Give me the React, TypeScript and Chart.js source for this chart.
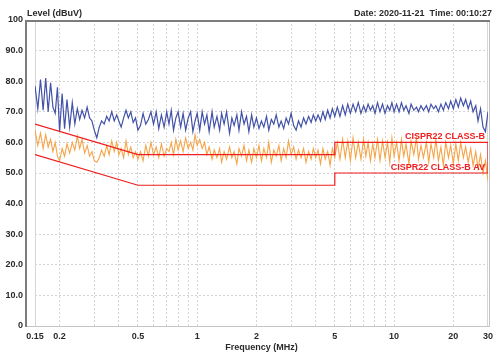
import React, { useEffect, useRef } from "react";
import { Chart, registerables } from "chart.js";

Chart.register(...registerables);

// Sweep frequencies (MHz)
const FREQ_MHZ = [
  0.150, 0.155, 0.160, 0.165, 0.170, 0.175, 0.180, 0.185, 0.190, 0.195, 0.200,
  0.206, 0.212, 0.218, 0.225, 0.232, 0.239, 0.246, 0.253, 0.260, 0.268, 0.276, 0.284, 0.292, 0.300,
  0.309, 0.318, 0.327, 0.337, 0.347, 0.357, 0.368, 0.379, 0.390, 0.400,
  0.411, 0.423, 0.435, 0.447, 0.460, 0.473, 0.486, 0.500,
  0.515, 0.531, 0.548, 0.565, 0.582, 0.600,
  0.619, 0.638, 0.658, 0.679, 0.700,
  0.719, 0.738, 0.758, 0.779, 0.800,
  0.824, 0.848, 0.874, 0.900,
  0.926, 0.951, 0.975, 1.00,
  1.03, 1.06, 1.09, 1.12, 1.15, 1.19, 1.22, 1.26, 1.30, 1.33, 1.37, 1.41, 1.46, 1.50, 1.54, 1.59, 1.63, 1.68, 1.73, 1.78, 1.83, 1.89, 1.94, 2.00,
  2.06, 2.12, 2.18, 2.25, 2.31, 2.38, 2.45, 2.52, 2.60, 2.67, 2.75, 2.83, 2.91, 3.00,
  3.09, 3.18, 3.27, 3.37, 3.47, 3.57, 3.68, 3.79, 3.89, 4.00,
  4.11, 4.23, 4.35, 4.47, 4.60, 4.73, 4.86, 5.00,
  5.15, 5.31, 5.48, 5.65, 5.82, 6.00,
  6.19, 6.38, 6.58, 6.79, 7.00,
  7.19, 7.38, 7.58, 7.79, 8.00,
  8.24, 8.48, 8.74, 9.00,
  9.26, 9.51, 9.75, 10.0,
  10.3, 10.6, 10.9, 11.2, 11.5, 11.9, 12.2, 12.6, 13.0, 13.3, 13.7, 14.1, 14.6, 15.0, 15.4, 15.9, 16.3, 16.8, 17.3, 17.8, 18.3, 18.9, 19.4, 20.0,
  20.6, 21.2, 21.8, 22.5, 23.1, 23.8, 24.5, 25.2, 26.0, 26.7, 27.5, 28.3, 29.1, 30.0,
];

// Peak trace (blue), dBuV
const PEAK_DBUV = [
  78.5, 71, 80.5, 70.5, 81, 70, 79.5, 71.5, 69.5, 78, 63.5,
  76, 64.5, 74, 65, 73, 66, 71, 67.5, 70.5, 68, 71.5, 68, 67, 64,
  61.5, 65, 67, 66, 68.5, 67, 70, 67, 69, 67,
  65, 68, 70.5, 68, 70, 66.5, 68, 64,
  65.5, 69.5, 66, 67.5, 70, 66,
  70, 64.5, 69, 65, 70,
  66, 70.5, 64, 68, 70,
  65, 69.5, 64, 68,
  70, 63.5, 67, 69.5,
  64, 70, 66, 69, 63.5, 70, 65, 68.5, 64, 69.5, 66, 70, 63, 68, 65.5, 69, 64, 70, 66, 68.5, 63.5, 69, 65, 68,
  64.5, 67, 65, 68.5, 64, 67.5, 66, 69, 65, 67, 64.5, 68, 66, 69.5,
  65.5, 64, 67, 65, 68, 66, 68.5, 66.5, 69, 67,
  69, 67, 70, 67.5, 70.5, 68, 71, 68.5,
  71.5, 68.5, 72, 69, 72.5, 69.5,
  72.5, 70, 73, 69.5, 72,
  70, 72.5, 70.5, 72, 69.5,
  73, 70, 72.5, 69.5,
  72, 70.5, 73, 70,
  72.5, 70, 73, 70.5, 72, 69.5, 72.5, 70.5, 71.5, 70, 72, 70.5, 72, 70, 72.5, 71, 72, 70, 72.5, 70.5, 73, 71, 73.5, 71,
  74, 71.5, 74.5, 72, 74, 71, 73.5, 70, 72, 67, 71, 65, 63.5, 70,
];

// Average trace (orange), dBuV
const AVG_DBUV = [
  64, 59, 63, 58, 62.5, 58.5, 61, 57, 60, 55.5, 54,
  58, 55.5, 59.5, 56.5, 60, 57.5, 62, 58, 61, 56.5, 59, 55.5, 57, 54,
  53.5, 55, 57.5, 55.5, 59, 56, 60.5, 57, 60, 56,
  58, 55, 60.5, 56, 58.5, 55, 57, 54.5,
  57, 54, 59, 55.5, 60, 56,
  58.5, 55, 59.5, 55.5, 58,
  57, 60, 56, 61, 57.5,
  60.5, 57, 61.5, 58,
  60, 57.5, 62.5, 59,
  61, 58, 60, 56, 58.5, 54.5, 57.5, 55, 58, 53.5, 57, 54.5, 58.5, 55, 57, 53, 58, 55.5, 59, 54, 57.5, 53.5, 58, 55,
  59, 54, 58, 55, 60, 53.5, 57.5, 55.5, 59, 54, 58, 55, 60.5, 56,
  58.5, 54.5, 57.5, 55, 58, 53.5, 57, 54.5, 58, 55,
  57.5, 53, 58, 54.5, 57, 52.5, 58, 55,
  60, 54.5, 61, 55, 60.5, 54,
  61.5, 55, 60, 54.5, 61,
  55.5, 60, 54, 59.5, 55,
  61, 54, 60.5, 55,
  60, 53.5, 61.5, 55.5,
  60, 54, 61, 55.5, 59.5, 53, 60.5, 56, 61.5, 54.5, 59, 55, 60, 53.5, 59.5, 55, 61, 54, 58.5, 52.5, 60, 55, 59, 53,
  59.5, 54, 60, 55, 58.5, 53.5, 58, 52.5, 57, 51.5, 56, 50, 54, 47.5,
];

// CISPR22 Class B limits
const QP_LIMIT_FREQ = [0.15, 0.5, 5, 5, 30, 30];
const QP_LIMIT_DBUV = [66, 56, 56, 60, 60, 50];
const AV_LIMIT_FREQ = [0.15, 0.5, 5, 5, 30];
const AV_LIMIT_DBUV = [56, 46, 46, 50, 50];

const X_GRID_TICKS = [0.15, 0.2, 0.3, 0.4, 0.5, 0.6, 0.7, 0.8, 0.9, 1, 2, 3, 4, 5, 6, 7, 8, 9, 10, 20, 30];
const X_LABELED = [0.15, 0.2, 0.5, 1, 2, 5, 10, 20, 30];
const Y_TICKS = [0, 10, 20, 30, 40, 50, 60, 70, 80, 90, 100];

const FONT = '"Liberation Sans", Arial, sans-serif';
const TEXT_COLOR = "#2a2a2a";
const RED = "#f01e1e";
const GRID = "#d4d4d4";

const framePlugin = {
  id: "emiFrame",
  beforeDatasetsDraw(chart: any) {
    const { ctx, chartArea: a } = chart;
    ctx.save();
    ctx.lineWidth = 1;
    ctx.strokeStyle = "#d6d6d6";
    ctx.beginPath();
    ctx.moveTo(a.left + 0.5, a.top);
    ctx.lineTo(a.left + 0.5, a.bottom);
    ctx.moveTo(a.right - 0.5, a.top);
    ctx.lineTo(a.right - 0.5, a.bottom);
    ctx.stroke();
    const L = a.left - 10;
    const R = a.right + 2;
    const T = a.top;
    const B = a.bottom + 1;
    ctx.strokeStyle = "#c4c4c4";
    ctx.beginPath();
    ctx.moveTo(R - 0.5, T);
    ctx.lineTo(R - 0.5, B);
    ctx.moveTo(L, B - 0.5);
    ctx.lineTo(R, B - 0.5);
    ctx.stroke();
    ctx.strokeStyle = "#7c7c7c";
    ctx.lineWidth = 2;
    ctx.beginPath();
    ctx.moveTo(L + 1, B);
    ctx.lineTo(L + 1, T + 1);
    ctx.lineTo(R, T + 1);
    ctx.stroke();
    ctx.restore();
  },
  afterDraw(chart: any) {
    const { ctx, chartArea: a, scales } = chart;
    const xs = scales.x;
    const ys = scales.y;
    ctx.save();
    ctx.font = `bold 9px ${FONT}`;
    ctx.fillStyle = TEXT_COLOR;
    ctx.textBaseline = "middle";
    ctx.textAlign = "left";
    ctx.fillText("Level (dBuV)", a.left - 8, 14);
    ctx.fillText("Date: 2020-11-21  Time: 00:10:27", 354, 14);
    ctx.textAlign = "center";
    ctx.fillText("Frequency (MHz)", (a.left + a.right) / 2, 348);
    ctx.fillStyle = RED;
    ctx.textAlign = "right";
    ctx.textBaseline = "bottom";
    const xr = xs.getPixelForValue(30) - 3;
    ctx.fillText("CISPR22 CLASS-B", xr, ys.getPixelForValue(60) - 1);
    ctx.fillText("CISPR22 CLASS-B AV", xr, ys.getPixelForValue(50) - 1);
    ctx.restore();
  },
};

export default function App() {
  const ref = useRef<HTMLCanvasElement | null>(null);

  useEffect(() => {
    document.body.style.margin = "0";
    const canvas = ref.current;
    if (!canvas) return;
    const tickFont = { family: FONT, size: 9, weight: "bold" as const };
    const chart = new Chart(canvas, {
      type: "line",
      data: {
        datasets: [
          {
            label: "CISPR22 CLASS-B",
            data: QP_LIMIT_FREQ.map((f, i) => ({ x: f, y: QP_LIMIT_DBUV[i] })),
            borderColor: RED,
            borderWidth: 1.2,
            pointRadius: 0,
            order: 0,
          },
          {
            label: "CISPR22 CLASS-B AV",
            data: AV_LIMIT_FREQ.map((f, i) => ({ x: f, y: AV_LIMIT_DBUV[i] })),
            borderColor: RED,
            borderWidth: 1.2,
            pointRadius: 0,
            order: 0,
          },
          {
            label: "Average",
            data: FREQ_MHZ.map((f, i) => ({ x: f, y: AVG_DBUV[i] })),
            borderColor: "#f6a448",
            borderWidth: 1.1,
            pointRadius: 0,
            order: 1,
          },
          {
            label: "Peak",
            data: FREQ_MHZ.map((f, i) => ({ x: f, y: PEAK_DBUV[i] })),
            borderColor: "#4352a8",
            borderWidth: 1.2,
            pointRadius: 0,
            order: 2,
          },
        ],
      },
      options: {
        animation: false,
        responsive: false,
        devicePixelRatio: 1,
        layout: { padding: { left: 0, right: 9, top: 20, bottom: 0 } },
        plugins: {
          legend: { display: false },
          tooltip: { enabled: false },
          title: { display: false },
        },
        scales: {
          x: {
            type: "logarithmic",
            min: 0.15,
            max: 30,
            afterBuildTicks: (s: any) => {
              s.ticks = X_GRID_TICKS.map((v) => ({ value: v }));
            },
            afterFit: (s: any) => {
              s.height = 30;
            },
            grid: { color: GRID, lineWidth: 1, drawTicks: false },
            border: { display: false, dash: [2, 2] },
            ticks: {
              autoSkip: false,
              maxRotation: 0,
              minRotation: 0,
              padding: 5,
              color: TEXT_COLOR,
              font: tickFont,
              callback: (v: any) => (X_LABELED.includes(Number(v)) ? String(v) : ""),
            },
          },
          y: {
            type: "linear",
            min: 0,
            max: 100,
            afterBuildTicks: (s: any) => {
              s.ticks = Y_TICKS.map((v) => ({ value: v }));
            },
            afterFit: (s: any) => {
              s.width = 35;
            },
            grid: { color: GRID, lineWidth: 1, drawTicks: false },
            border: { display: false, dash: [2, 2] },
            ticks: {
              autoSkip: false,
              padding: 12,
              color: TEXT_COLOR,
              font: tickFont,
              callback: (v: any) => {
                const n = Number(v);
                if (n === 100) return "100";
                if (n === 0) return "0";
                return n.toFixed(1);
              },
            },
          },
        },
      },
      plugins: [framePlugin],
    });
    return () => chart.destroy();
  }, []);

  return (
    <div style={{ width: 498, height: 356 }}>
      <canvas ref={ref} width={498} height={356} style={{ display: "block" }} />
    </div>
  );
}
